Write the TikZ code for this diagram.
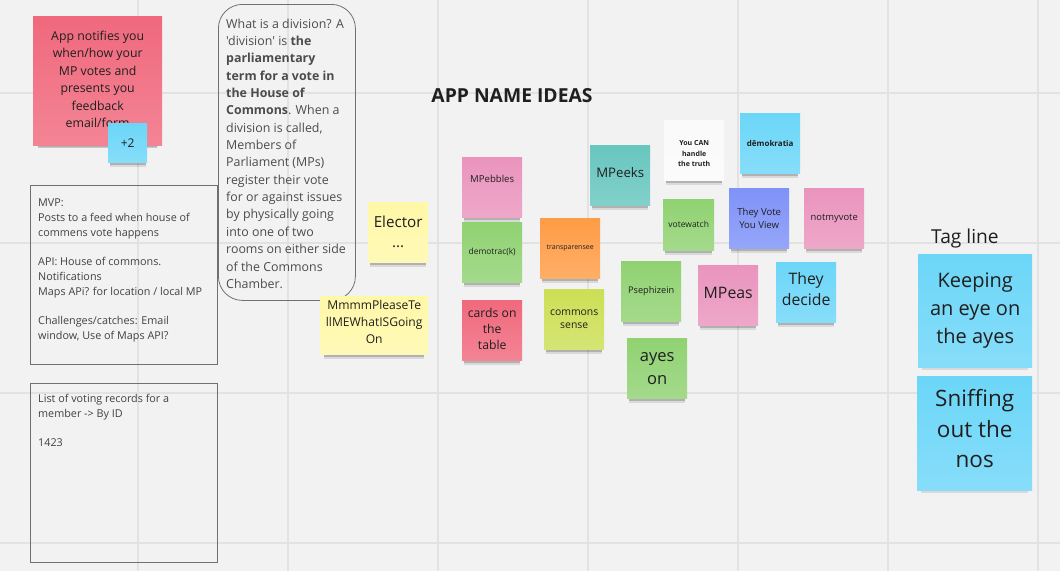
\documentclass[tikz,border=0pt]{standalone}
\usepackage{fontspec}
\setmainfont{Open Sans}
\newfontfamily\plainfont{Open Sans}
\usetikzlibrary{shadows}
\definecolor{bg}{HTML}{F2F2F2}
\definecolor{gridc}{HTML}{E2E2E2}
\definecolor{ink}{HTML}{1F1F1F}
\definecolor{boxline}{HTML}{707070}
\definecolor{sred}{HTML}{F0697D}
\definecolor{sblue}{HTML}{6CD6F8}
\definecolor{syellow}{HTML}{FFF8A8}
\definecolor{spink}{HTML}{EA94BD}
\definecolor{sgreen}{HTML}{90D272}
\definecolor{sorange}{HTML}{FF9C46}
\definecolor{slime}{HTML}{CCDF55}
\definecolor{steal}{HTML}{67C6BF}
\definecolor{sviolet}{HTML}{7F92F8}
\definecolor{swhite}{HTML}{FAFAFA}
\newcommand\myfs[2]{\fontsize{#1}{#2}\selectfont}
\begin{document}
\begin{tikzpicture}[x=1pt,y=-1pt,
  gridline/.style={draw=gridc, line width=1.5pt},
  sticky/.style={anchor=north west, inner sep=1pt, align=center, text=ink,
    minimum width=60pt, minimum height=60pt,
    general shadow={fill=black, opacity=.10, shadow yshift=-7pt, shadow scale=.93},
    general shadow={fill=black, opacity=.18, shadow yshift=-5pt, shadow scale=.93},
    top color=#1, bottom color=#1!82!white},
  outlinebox/.style={anchor=north west, draw=boxline, line width=0.8pt, inner sep=0pt},
  boxtext/.style={anchor=north west, inner sep=0pt, align=left, text=ink!85},
]
\useasboundingbox (0,0) rectangle (1060,571);
\fill[bg] (0,0) rectangle (1060,571);
% grid
\foreach \gx in {138,288,438,588,738,888,1038} \draw[gridline] (\gx,0) -- (\gx,571);
\foreach \gy in {93,243,393,543} \draw[gridline] (0,\gy) -- (1060,\gy);

% top-left sticky
\node[sticky=sred, minimum width=129pt, minimum height=129pt,
  general shadow={fill=black, opacity=.18, shadow yshift=-9pt, shadow scale=.92},
  font=\myfs{12.3}{17.4}, text depth=3pt] (notify) at (33,16)
  {App notifies you\\when/how your\\MP votes and\\presents you\\feedback\\email/form};
\node[sticky=sblue, minimum width=39pt, minimum height=39pt, font=\myfs{12}{14}] (plus) at (108,123) {+2};

% MVP box
\node[outlinebox, minimum width=187pt, minimum height=179pt] (mvp) at (30,185) {};
\node[boxtext, font=\myfs{10.8}{14.7}] (mvptext) at (38,199) {MVP:\\Posts to a feed when house of\\commens vote happens\\[14.7pt]API: House of commons.\\Notifications\\Maps APi? for location / local MP\\[14.7pt]Challenges/catches: Email\\window, Use of Maps API?};

% List box
\node[outlinebox, minimum width=187pt, minimum height=179pt] (list) at (30,383) {};
\node[boxtext, font=\myfs{10.8}{14.7}] (listtext) at (38,394) {List of voting records for a\\member -> By ID\\[14.7pt]1423};

% division box
\node[outlinebox, rounded corners=24pt, minimum width=137pt, minimum height=296pt] (division) at (218,4) {};
\node[boxtext, text=ink!80, font=\plainfont\myfs{12.4}{17.35}] (divtext) at (226,18.5) {What is a division? A\\'division' is \textbf{the}\\\textbf{parliamentary}\\\textbf{term for a vote in}\\\textbf{the House of}\\\textbf{Commons}. When a\\division is called,\\Members of\\Parliament (MPs)\\register their vote\\for or against issues\\by physically going\\into one of two\\rooms on either side\\of the Commons\\Chamber.};

% heading
\node[text=ink, inner sep=0pt, font=\myfs{19.3}{22}\bfseries] (heading) at (512,96) {APP NAME IDEAS};

% name stickies
\node[sticky=syellow, font=\myfs{15.2}{20}] (elector) at (368,202) {Elector\\...};
\node[sticky=syellow, minimum width=108pt, minimum height=58pt, font=\myfs{12.1}{17}, text depth=6pt] (mmmm) at (320,296) {MmmmPleaseTe\\llMEWhatISGoing\\On};
\node[sticky=spink, font=\myfs{9.6}{12}, text depth=16pt] (mpebbles) at (462,157) {MPebbles};
\node[sticky=sgreen, font=\myfs{8.4}{11}] (demotrac) at (462,222) {demotrac(k)};
\node[sticky=sred, font=\myfs{12.2}{16}, text depth=3pt] (cards) at (462,300) {cards on\\the\\table};
\node[sticky=sorange, font=\myfs{7}{9}] (transp) at (540,218) {transparensee};
\node[sticky=slime, font=\myfs{10.4}{13.5}] (commons) at (544,289) {commons\\sense};
\node[sticky=steal, font=\myfs{13.2}{16}, text depth=5pt] (mpeeks) at (590,145) {MPeeks};
\node[sticky=swhite, font=\myfs{7}{10.5}\bfseries, text height=33pt] (truth) at (664,120) {You CAN\\handle\\the truth};
\node[sticky=sblue, font=\myfs{8}{10}\bfseries] (demokratia) at (740,113) {dēmokratia};
\node[sticky=sgreen, minimum width=51pt, minimum height=51pt, font=\myfs{8.5}{11}] (votewatch) at (663,199) {votewatch};
\node[sticky=sviolet, font=\myfs{9.6}{13}] (theyvote) at (729,188) {They Vote\\You View};
\node[sticky=spink, font=\myfs{9.4}{12}] (notmyvote) at (804,188) {notmyvote};
\node[sticky=sgreen, font=\myfs{9.2}{12}] (pseph) at (621,261) {Psephizein};
\node[sticky=spink, font=\myfs{15.8}{19}, text depth=4pt] (mpeas) at (698,265) {MPeas};
\node[sticky=sblue, font=\myfs{15.8}{21}, text depth=6pt] (decide) at (776,262) {They\\decide};
\node[sticky=sgreen, font=\myfs{16.5}{23}] (ayes) at (627,338) {ayes\\on};

% tag line
\node[text=ink, inner sep=0pt, font=\myfs{19.2}{22}] (tagline) at (965,239) {Tag line};
\node[sticky=sblue, minimum width=114pt, minimum height=113pt, font=\myfs{20}{28}] (keeping) at (918,254) {Keeping\\an eye on\\the ayes};
\node[sticky=sblue, minimum width=115pt, minimum height=114pt, font=\myfs{22.5}{30.5}, text depth=9pt] (sniffing) at (917,376) {Sniffing\\out the\\nos};
\end{tikzpicture}
\end{document}
